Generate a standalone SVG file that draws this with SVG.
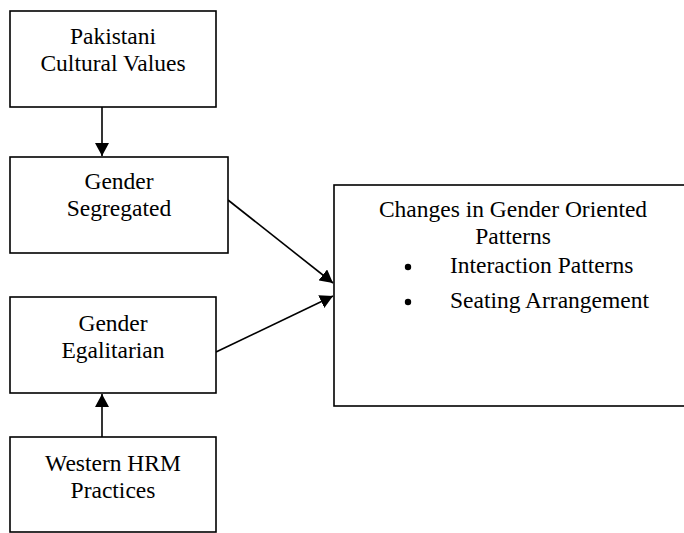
<svg xmlns="http://www.w3.org/2000/svg" width="684" height="533" viewBox="0 0 684 533">
<defs>
<style>
.box{fill:#fff;stroke:#000;stroke-width:1.6}
.t{font-family:"Liberation Serif","Times New Roman",serif;font-size:23.5px;fill:#000}
.c{text-anchor:middle}
.edge{stroke:#000;stroke-width:1.6;fill:none;marker-end:url(#ah)}
</style>
<marker id="ah" markerUnits="userSpaceOnUse" markerWidth="14" markerHeight="14" refX="13" refY="7" orient="auto">
<path d="M0,0 L13,7 L0,14 z" fill="#000"/>
</marker>
</defs>
<rect width="684" height="533" fill="#fff"/>
<g id="connectors">
<line class="edge" x1="102" y1="107" x2="102" y2="156"/>
<line class="edge" x1="102" y1="437" x2="102" y2="394"/>
<line class="edge" x1="228" y1="200" x2="333" y2="283"/>
<line class="edge" x1="216" y1="352" x2="333" y2="296"/>
</g>
<g id="pakistani">
<rect class="box" x="10" y="11" width="206" height="96"/>
<text class="t c" x="113" y="44">Pakistani</text>
<text class="t c" x="113" y="71">Cultural Values</text>
</g>
<g id="segregated">
<rect class="box" x="10" y="157" width="218" height="96"/>
<text class="t c" x="119" y="189">Gender</text>
<text class="t c" x="119" y="216">Segregated</text>
</g>
<g id="egalitarian">
<rect class="box" x="10" y="297" width="206" height="96"/>
<text class="t c" x="113" y="331">Gender</text>
<text class="t c" x="113" y="358">Egalitarian</text>
</g>
<g id="western">
<rect class="box" x="10" y="437" width="206" height="95"/>
<text class="t c" x="113" y="471">Western HRM</text>
<text class="t c" x="113" y="498">Practices</text>
</g>
<g id="changes">
<rect class="box" x="334" y="185" width="360" height="221"/>
<text class="t c" x="513" y="217">Changes in Gender Oriented</text>
<text class="t c" x="513" y="244">Patterns</text>
<circle cx="408" cy="267" r="3.2" fill="#000"/>
<text class="t" x="450" y="273">Interaction Patterns</text>
<circle cx="408" cy="302" r="3.2" fill="#000"/>
<text class="t" x="450" y="308">Seating Arrangement</text>
</g>
</svg>
